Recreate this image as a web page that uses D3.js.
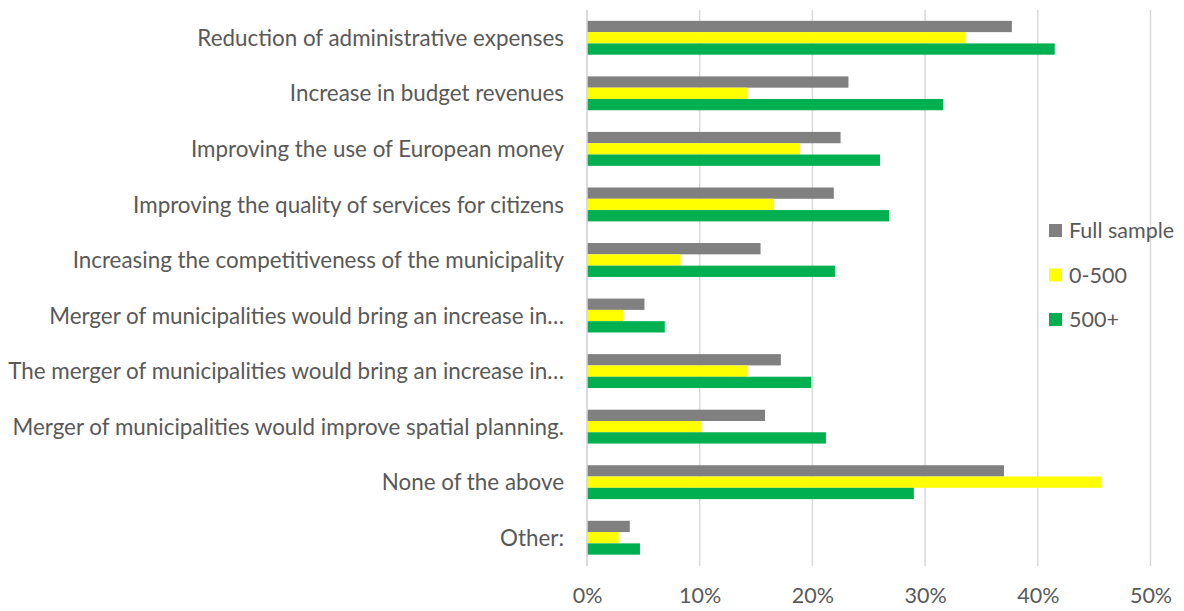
<!DOCTYPE html>
<html>
<head>
<meta charset="utf-8">
<script src="https://cdn.jsdelivr.net/npm/d3@7"></script>
<style>
  html, body { margin: 0; padding: 0; background: #ffffff; }
  svg { display: block; }
  text { font-family: Lato, "Open Sans", sans-serif; fill: #595959; }
</style>
</head>
<body>
<svg id="chart" width="1184" height="611"></svg>
<script>
// Survey answers (share of respondents), top to bottom
const categories = [
  "Reduction of administrative expenses",
  "Increase in budget revenues",
  "Improving the use of European money",
  "Improving the quality of services for citizens",
  "Increasing the competitiveness of the municipality",
  "Merger of municipalities would bring an increase in…",
  "The merger of municipalities would bring an increase in…",
  "Merger of municipalities would improve spatial planning.",
  "None of the above",
  "Other:"
];

const seriesNames = ["Full sample", "0-500", "500+"];
const seriesColors = ["#808080", "#ffff00", "#00b050"];

const fullSample = [0.377, 0.232, 0.225, 0.219, 0.154, 0.051, 0.172, 0.158, 0.370, 0.038];
const small      = [0.336, 0.142, 0.189, 0.166, 0.083, 0.032, 0.142, 0.101, 0.456, 0.028];
const large      = [0.415, 0.316, 0.260, 0.268, 0.220, 0.069, 0.199, 0.212, 0.290, 0.047];

const tickValues = [0, 0.1, 0.2, 0.3, 0.4, 0.5];

const values = [fullSample, small, large];

const labelSize = 22.4;
const tickSize = 21.5;
const legendSize = 21.5;

const svg = d3.select("#chart");

const x = d3.scaleLinear().domain([0, 0.5]).range([587, 1150.5]);

const y = d3.scaleBand()
  .domain(categories)
  .range([10, 565.5])
  .paddingInner(0.39)
  .paddingOuter(0.195);

const ySub = d3.scaleBand()
  .domain(seriesNames)
  .range([0, y.bandwidth()]);

// Vertical gridlines
svg.append("g")
  .selectAll("line")
  .data(tickValues)
  .join("line")
  .attr("x1", d => x(d))
  .attr("x2", d => x(d))
  .attr("y1", 10)
  .attr("y2", 566)
  .attr("stroke", "#d9d9d9")
  .attr("stroke-width", 1.5);

// Bars
const groups = svg.append("g")
  .selectAll("g")
  .data(categories)
  .join("g")
  .attr("transform", d => `translate(0,${y(d)})`);

groups.selectAll("rect")
  .data((c, i) => seriesNames.map((s, k) => ({ s, k, v: values[k][i] })))
  .join("rect")
  .attr("x", x(0))
  .attr("y", d => ySub(d.s))
  .attr("width", d => x(d.v) - x(0))
  .attr("height", ySub.bandwidth())
  .attr("fill", d => seriesColors[d.k]);

// Category axis line
svg.append("line")
  .attr("x1", x(0)).attr("x2", x(0))
  .attr("y1", 10).attr("y2", 566)
  .attr("stroke", "#d9d9d9")
  .attr("stroke-width", 1.5);

// Category labels
const yAxis = d3.axisLeft(y).tickSize(0).tickPadding(23);
const yg = svg.append("g")
  .attr("transform", `translate(${x(0)},0)`)
  .call(yAxis);
yg.select(".domain").remove();
yg.selectAll("text")
  .attr("font-size", labelSize)
  .attr("font-family", "Lato, 'Open Sans', sans-serif")
  .attr("fill", "#595959")
  .attr("dy", "0.36em");

// Percentage axis labels
const xAxis = d3.axisBottom(x)
  .tickValues(tickValues)
  .tickFormat(d3.format(".0%"))
  .tickSize(0)
  .tickPadding(17);
const xg = svg.append("g")
  .attr("transform", "translate(0,571)")
  .call(xAxis);
xg.select(".domain").remove();
xg.selectAll("text")
  .attr("font-size", tickSize)
  .attr("font-family", "Lato, 'Open Sans', sans-serif")
  .attr("fill", "#595959");

// Legend
const legend = svg.append("g")
  .selectAll("g")
  .data(seriesNames)
  .join("g")
  .attr("transform", (d, i) => `translate(1049,${230.5 + i * 44.5})`);

legend.append("rect")
  .attr("x", 0)
  .attr("y", -6.5)
  .attr("width", 13)
  .attr("height", 13)
  .attr("fill", (d, i) => seriesColors[i]);

legend.append("text")
  .attr("x", 20)
  .attr("y", 0)
  .attr("dy", "0.36em")
  .attr("font-size", legendSize)
  .text(d => d);
</script>
</body>
</html>
